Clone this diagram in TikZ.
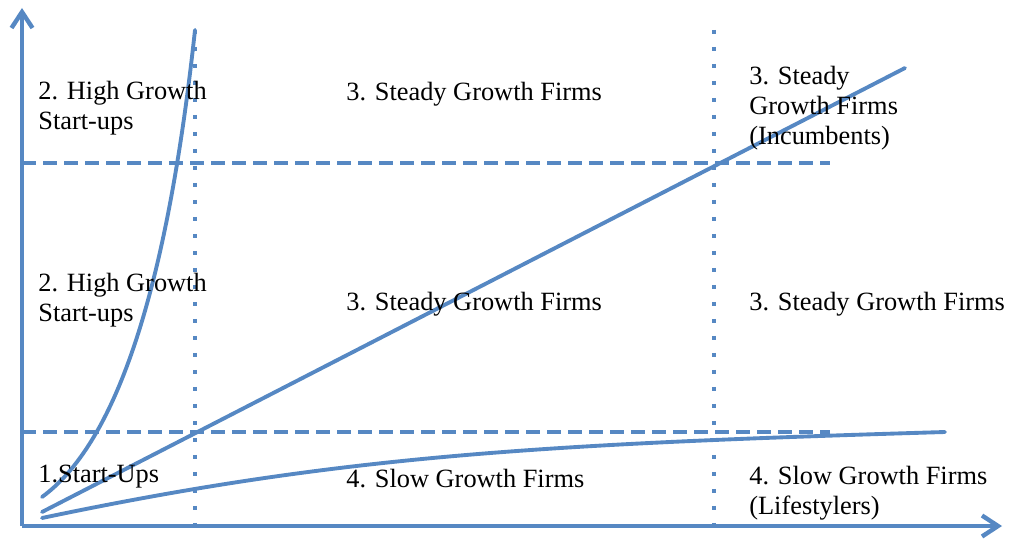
\documentclass[tikz,border=0pt]{standalone}
\usepackage{fontspec}
\setmainfont{Liberation Serif}
\usepackage{tikz}
\usetikzlibrary{positioning,arrows.meta}
\definecolor{lineBlue}{RGB}{86,136,195}

\begin{document}
\begin{tikzpicture}[
	axis/.style={draw=lineBlue, line width=2.5pt, -{Straight Barb[length=3.2mm, width=4.2mm, line width=2.5pt]}},
	growth/.style={draw=lineBlue, line width=2.2pt, line cap=round},
	hsplit/.style={draw=lineBlue, line width=2.4pt, dash pattern=on 0.28cm off 0.14cm},
	vsplit/.style={draw=lineBlue, line width=2.4pt, dash pattern=on 0.08cm off 0.26cm},
	label/.style={anchor=west, inner sep=0pt, align=left, font=\fontsize{15}{17}\selectfont},
	]
	\useasboundingbox (0,0) rectangle (20.36,10.76);
	
	% axes
	\coordinate (O) at (0.44,0.24);
	\coordinate (ytop) at (0.44,10.6);
	\coordinate (xend) at (20.04,0.24);
	\draw [axis] (O) -- (ytop);
	\draw [axis] (O) -- (xend);
	
	% grid of the quadrants
	\coordinate (h1a) at (0.44,7.5);
	\coordinate (h1b) at (16.6,7.5);
	\coordinate (h2a) at (0.44,2.12);
	\coordinate (h2b) at (16.6,2.12);
	\coordinate (v1a) at (3.9,10.16);
	\coordinate (v1b) at (3.9,0.24);
	\coordinate (v2a) at (14.28,10.16);
	\coordinate (v2b) at (14.28,0.24);
	\draw [hsplit] (h1a) -- (h1b);
	\draw [hsplit] (h2a) -- (h2b);
	\draw [vsplit] (v1a) -- (v1b);
	\draw [vsplit] (v2a) -- (v2b);
	
	% growth paths
	\coordinate (steadyA) at (0.84,0.52);
	\coordinate (steadyB) at (18.1,9.4);
	\coordinate (slowA) at (0.84,0.4);
	\coordinate (slowB) at (18.9,2.12);
	\coordinate (highA) at (0.84,0.82);
	\coordinate (highB) at (3.9,10.16);
	\draw [growth] (steadyA) -- (steadyB);
	\draw [growth] (slowA) .. controls (6.84,1.66) and (10.9,1.88) .. (slowB);
	\draw [growth] (highA) .. controls (2.6,2.1) and (3.45,6.0) .. (highB);
	
	% labels
	\node [label] (hg1) at (0.76,8.6) {2. High Growth\\Start-ups};
	\node [label] (sg1) at (6.92,8.88) {3. Steady Growth Firms};
	\node [label] (inc) at (14.98,8.6) {3. Steady\\Growth Firms\\(Incumbents)};
	\node [label] (hg2) at (0.76,4.75) {2. High Growth\\Start-ups};
	\node [label] (sg2) at (6.92,4.68) {3. Steady Growth Firms};
	\node [label] (sg3) at (14.98,4.68) {3. Steady Growth Firms};
	\node [label] (su) at (0.76,1.23) {1.Start-Ups};
	\node [label] (slow1) at (6.92,1.19) {4. Slow Growth Firms};
	\node [label] (life) at (14.98,0.9) {4. Slow Growth Firms\\(Lifestylers)};
\end{tikzpicture}
\end{document}
